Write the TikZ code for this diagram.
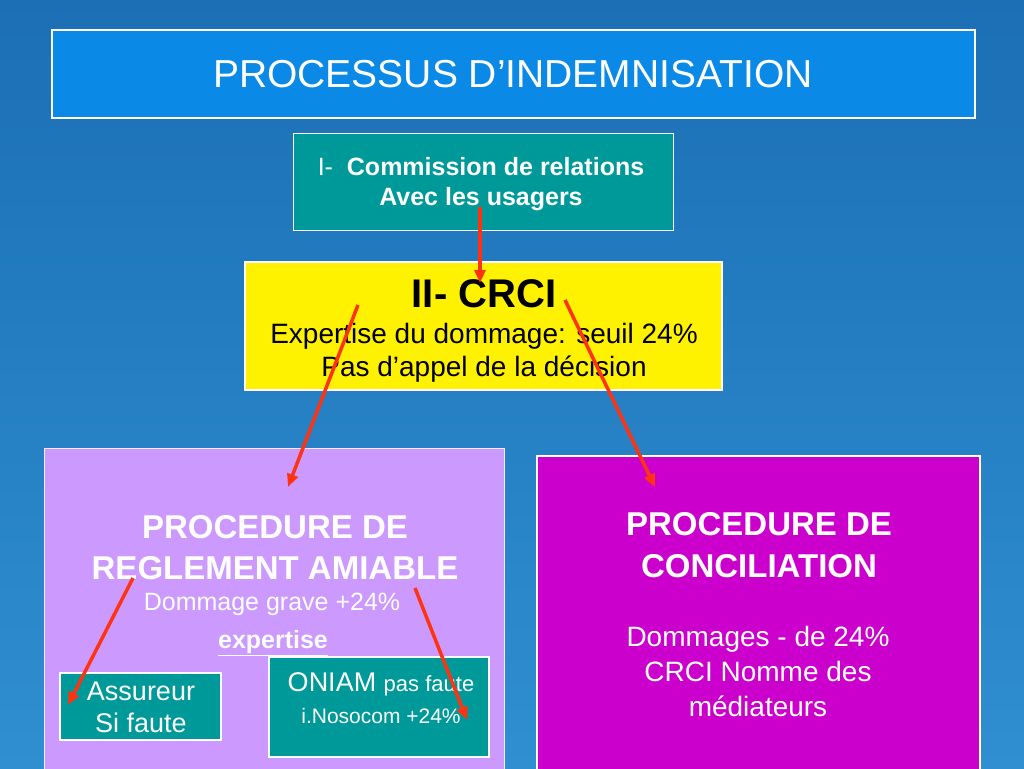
\documentclass[tikz,border=0pt]{standalone}
\usepackage{fontspec}
\setmainfont{Liberation Sans}
\usetikzlibrary{arrows.meta}
\definecolor{bgA}{HTML}{1C6FB5}
\definecolor{bgB}{HTML}{2F8FD0}
\definecolor{titlebg}{HTML}{0A8AE6}
\definecolor{teal}{HTML}{009999}
\definecolor{lav}{HTML}{CC99FF}
\definecolor{mag}{HTML}{CC00CC}
\definecolor{arr}{HTML}{FF3311}
\begin{document}
\begin{tikzpicture}[x=1pt,y=-1pt,
  box/.style={draw=white,line width=2.5pt,inner sep=0pt},
  ar/.style={arr,line width=3.5pt,-{Triangle[length=13pt,width=11pt]}},
  txt/.style={align=center,inner sep=0pt}]
\shade[top color=bgA,bottom color=bgB] (0,0) rectangle (1024,768);
\useasboundingbox (0,0) rectangle (1024,768);
\draw[box,fill=titlebg] (52,30) rectangle (975,118);
\node[txt,white,font=\fontsize{39}{44}\selectfont] (title) at (513,74) {PROCESSUS D’INDEMNISATION};
\draw[draw=white,line width=0.6pt,fill=teal] (293,133) rectangle (673,230);
\node[txt,white,font=\fontsize{25}{30}\selectfont] (cru) at (481,184) {I-\ \ \textbf{Commission de relations}\\ \textbf{Avec les usagers}};
\coordinate (cruA) at (480,207);
\draw[box,fill=yellow] (245,262) rectangle (722,390);
\node[txt,font=\fontsize{40}{44}\selectfont\bfseries] (crci) at (484,294) {II- CRCI};
\node[txt,font=\fontsize{28}{33}\selectfont] (crcit) at (484,353) {Expertise du dommage: seuil 24\%\\Pas d’appel de la décision};
\coordinate (crciT) at (480,283);
\draw[draw=white!80!lav,line width=1pt,fill=lav] (44,448) rectangle (504,770);
\draw[box,fill=mag] (537,456) rectangle (980,770);
\node[txt,white,font=\fontsize{33}{41}\selectfont\bfseries] (amiable) at (275,548) {PROCEDURE DE\\REGLEMENT AMIABLE};
\node[txt,white,font=\fontsize{25}{28}\selectfont] (grave) at (272,604) {Dommage grave +24\%};
\node[txt,white,font=\fontsize{25}{28}\selectfont\bfseries] (exp) at (273,643) {\underline{expertise}};
\node[txt,white,font=\fontsize{33}{42}\selectfont\bfseries] (conc) at (759,545) {PROCEDURE DE\\ CONCILIATION};
\node[txt,white,font=\fontsize{28}{35}\selectfont] (conct) at (758,671) {Dommages - de 24\%\\CRCI Nomme des\\médiateurs};
\draw[box,fill=teal] (60,673) rectangle (221,740);
\node[txt,white,font=\fontsize{27}{32}\selectfont] (ass) at (141,707) {Assureur\\Si faute};
\draw[box,fill=teal] (269,657) rectangle (489,757);
\node[txt,white,font=\fontsize{27}{32}\selectfont] (oniam) at (381,698) {ONIAM {\fontsize{22}{26}\selectfont pas faute}\\{\fontsize{21}{26}\selectfont i.Nosocom +24\%}};
\coordinate (a1) at (358,305); \coordinate (a1e) at (288,487);
\coordinate (a2) at (565,300); \coordinate (a2e) at (655,487);
\coordinate (a3) at (133,578); \coordinate (a3e) at (68,705);
\coordinate (a4) at (415,588); \coordinate (a4e) at (467,720);
\draw[ar] (cruA) -- (crciT);
\draw[ar] (a1) -- (a1e);
\draw[ar] (a2) -- (a2e);
\draw[ar] (a3) -- (a3e);
\draw[ar] (a4) -- (a4e);
\end{tikzpicture}
\end{document}
